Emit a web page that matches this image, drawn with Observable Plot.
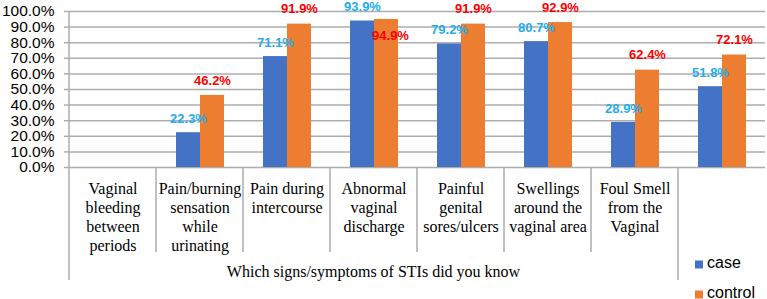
<!DOCTYPE html>
<html>
<head>
<meta charset="utf-8">
<script src="https://cdn.jsdelivr.net/npm/d3@7"></script>
<script src="https://cdn.jsdelivr.net/npm/@observablehq/plot@0.6"></script>
<style>
  body { margin: 0; background: #fff; }
  #chart svg { display: block; overflow: visible; }
  #chart text.category-label, #chart text.category-label tspan {
    font-family: "Liberation Serif", "Times New Roman", serif !important;
  }
</style>
</head>
<body>
<div id="chart"></div>
<script>
// Symptom categories (line breaks are the wrapped axis labels)
const categories = [
  "Vaginal\nbleeding\nbetween\nperiods",
  "Pain/burning\nsensation\nwhile\nurinating",
  "Pain during\nintercourse",
  "Abnormal\nvaginal\ndischarge",
  "Painful\ngenital\nsores/ulcers",
  "Swellings\naround the\nvaginal area",
  "Foul Smell\nfrom the\nVaginal",
  ""
];
const series = ["case", "control"];
// Percent of respondents who knew each sign/symptom (first category has no bars)
const caseValues    = [null, 22.3, 71.1, 93.9, 79.2, 80.7, 28.9, 51.8];
const controlValues = [null, 46.2, 91.9, 94.9, 91.9, 92.9, 62.4, 72.1];
const yTicks = [0, 10, 20, 30, 40, 50, 60, 70, 80, 90, 100];
const axisTitle = "Which signs/symptoms of STIs did you know";

// keep rows with missing values so every category still gets its facet
const rows = [];
categories.forEach((category, i) => {
  [caseValues[i], controlValues[i]].forEach((value, j) => {
    rows.push({category, series: series[j], value});
  });
});
const valued = rows.filter(d => d.value != null);

const pct = d => d.toFixed(1) + "%";
const gridColor = "#adadad";
const labelFont = "Liberation Sans, Arial, sans-serif";
const serifFont = "Liberation Serif, Times New Roman, serif";
// the control label of this category sits inside the bar top instead of above it
const lowered = d => d.series === "control" && d.category === categories[3];

const plot = Plot.plot({
  width: 767,
  height: 299,
  marginTop: 11,
  marginBottom: 132,
  marginLeft: 67,
  marginRight: 0,
  style: {fontFamily: labelFont, background: "#fff", color: "#000"},
  fx: {domain: categories, padding: 0, label: null, axis: null},
  x: {domain: series, paddingInner: 0, paddingOuter: 0.75, axis: null},
  y: {domain: [0, 100], label: null},
  color: {domain: series, range: ["#4472c4", "#ed7d31"]},
  marks: [
    Plot.gridY(yTicks, {stroke: gridColor, strokeOpacity: 1, strokeWidth: 1.5}),
    Plot.axisY(yTicks, {
      tickFormat: pct, tickSize: 5, tickPadding: 10, fontSize: 15.5,
      stroke: gridColor, strokeWidth: 1.5, fill: "#000", label: null
    }),
    // category labels under each group
    Plot.text(categories, {
      fx: d => d, text: d => d, frameAnchor: "bottom", lineAnchor: "top",
      dy: 13, fontSize: 16, lineHeight: 1.18, fontFamily: serifFont,
      fill: "#000", className: "category-label"
    }),
    Plot.barY(rows, {fx: "category", x: "series", y: "value", fill: "series"}),
    Plot.text(valued.filter(d => d.series === "case"), {
      fx: "category", x: "series", y: "value", text: d => pct(d.value),
      dy: -14, fill: "#1fadee", fontWeight: "bold", fontSize: 13
    }),
    Plot.text(valued.filter(d => d.series === "control" && !lowered(d)), {
      fx: "category", x: "series", y: "value", text: d => pct(d.value),
      dy: -15, fill: "#ff0000", fontWeight: "bold", fontSize: 13
    }),
    Plot.text(valued.filter(lowered), {
      fx: "category", x: "series", y: "value", text: d => pct(d.value),
      dy: 16, dx: 4, fill: "#ff0000", fontWeight: "bold", fontSize: 13
    })
  ]
});

const svg = d3.select(plot);

// make sure every line of the category labels uses the serif face
const flatLabels = new Set(categories.filter(c => c).map(c => c.replace(/\n/g, "")));
svg.selectAll("text")
  .filter(function () { return flatLabels.has(this.textContent.replace(/\s*\n\s*/g, "")); })
  .classed("category-label", true)
  .attr("font-family", serifFont);

// Category separators, left axis line, axis title and legend
const fx = plot.scale("fx");
const y = plot.scale("y");
const bw = fx.bandwidth;
const y0 = y.apply(0);
const yTop = y.apply(100);
const g = svg.append("g").attr("stroke", gridColor).attr("stroke-width", 1.5);
categories.forEach((c, i) => {
  const x = fx.apply(c);
  const long = i === 0 || i === categories.length - 1;
  g.append("line")
    .attr("x1", x).attr("x2", x)
    .attr("y1", i === 0 ? yTop : y0)
    .attr("y2", long ? 280 : 252);
});

const titleX = (fx.apply(categories[0]) + fx.apply(categories[6]) + bw) / 2;
svg.append("text")
  .attr("x", titleX).attr("y", 277)
  .attr("text-anchor", "middle")
  .attr("font-family", serifFont)
  .attr("font-size", 16)
  .attr("fill", "#000")
  .text(axisTitle);

const color = plot.scale("color");
const legend = svg.append("g")
  .attr("font-family", labelFont)
  .attr("font-size", 16)
  .attr("text-anchor", "start");
series.forEach((s, i) => {
  const base = 268 + i * 30;
  legend.append("rect")
    .attr("x", 695).attr("y", base - 7.5).attr("width", 8).attr("height", 8)
    .attr("fill", color.apply(s));
  legend.append("text")
    .attr("x", 707).attr("y", base)
    .attr("fill", "#000")
    .text(s);
});

document.getElementById("chart").append(plot);
</script>
</body>
</html>
